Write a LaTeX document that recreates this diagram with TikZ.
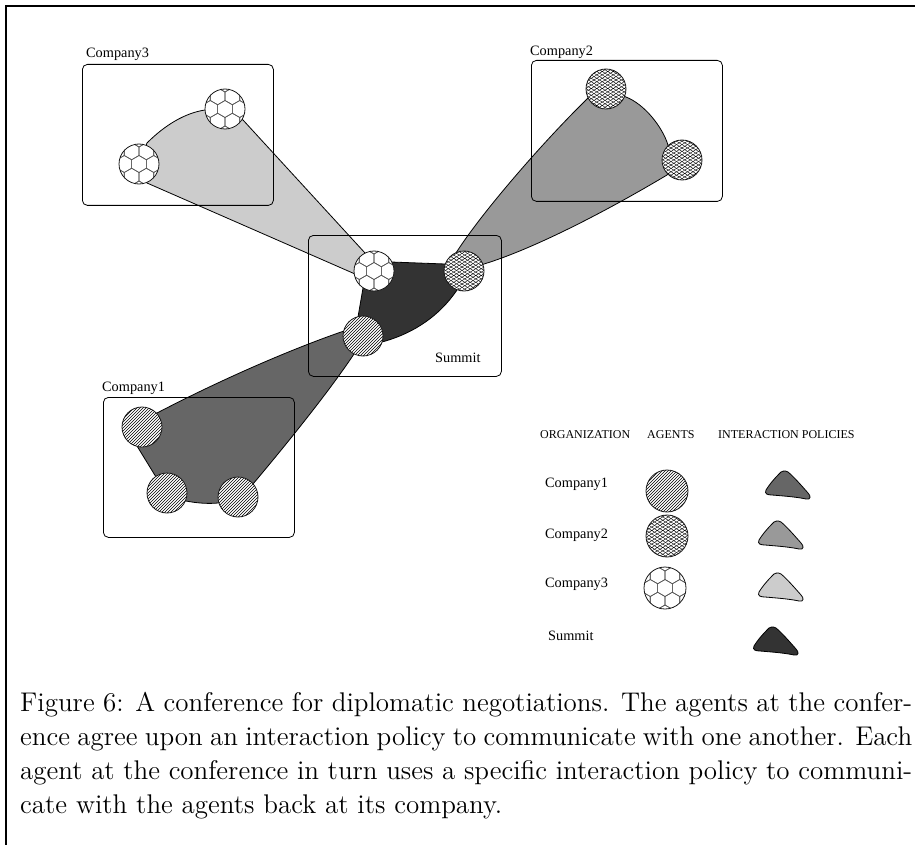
\documentclass[tikz,border=0pt]{standalone}
\usepackage{fontspec}
\usetikzlibrary{patterns,backgrounds,calc}
\newfontfamily\diagfont{Liberation Serif}
\newfontfamily\capfont{lmroman12-regular.otf}

% fine diamond mesh used for the Company2 agents
\pgfdeclarepatternformonly{meshpat}{\pgfqpoint{-1pt}{-1pt}}{\pgfqpoint{7pt}{5pt}}{\pgfqpoint{5.5pt}{3.4pt}}{%
  \pgfsetlinewidth{0.4pt}%
  \pgfpathmoveto{\pgfqpoint{0pt}{0pt}}\pgfpathlineto{\pgfqpoint{5.5pt}{3.4pt}}%
  \pgfpathmoveto{\pgfqpoint{0pt}{3.4pt}}\pgfpathlineto{\pgfqpoint{5.5pt}{0pt}}%
  \pgfusepath{stroke}}

\definecolor{polA}{HTML}{666666}
\definecolor{polB}{HTML}{999999}
\definecolor{polC}{HTML}{CCCCCC}
\definecolor{polD}{HTML}{333333}
\definecolor{hexgray}{HTML}{555555}

\tikzset{
  lbl/.style={inner sep=0pt, font=\diagfont\fontsize{14.3}{16}\selectfont},
  hdr/.style={inner sep=0pt, font=\diagfont\fontsize{12}{14}\selectfont},
  orgbox/.style={draw=black, line width=0.8pt, rounded corners=5pt, minimum width=191pt, minimum height=141pt, anchor=north west, inner sep=0pt},
  agent/.style={circle, draw=black!90, line width=0.8pt, minimum size=40pt, inner sep=0pt},
  hatchagent/.style={agent, preaction={fill=white}, pattern=north east lines},
  meshagent/.style={agent, preaction={fill=white}, pattern=meshpat},
  hexline/.style={draw=hexgray, line width=0.6pt},
  soccer/.style={agent, fill=white, path picture={
    \foreach \j in {-2,...,2}{
      \foreach \i in {-2,...,2}{
        \pgfmathsetmacro\hx{\i*14.72+Mod(\j,2)*7.36}
        \pgfmathsetmacro\hy{\j*12.75}
        \draw[hexline] ($(path picture bounding box.center)+(\hx,\hy)$)
          +(30:8.5) -- +(90:8.5) -- +(150:8.5) -- +(210:8.5) -- +(270:8.5) -- +(330:8.5) -- cycle;
      }
    }
  }},
  region/.style={draw=black, line width=0.8pt, line join=round},
  policy/.pic={
    \path[pic actions] (-4,2) .. controls (-9,7) and (-14,13) .. (-17,18)
      .. controls (-19,22) and (-15,23) .. (-11,23)
      .. controls (1,24) and (14,25) .. (23,27)
      .. controls (28,28) and (28,24) .. (25,21)
      .. controls (18,13) and (10,4) .. (5,0)
      .. controls (2,-2) and (-2,-1) .. cycle;
  },
  polshape/.style={draw=black, line width=0.8pt}
}

\begin{document}
\begin{tikzpicture}[x=1pt,y=-1pt]
\useasboundingbox (0,0) rectangle (915,845);

% outer frame
\draw[line width=2.5pt] (6,870) -- (6,6) -- (940,6);

% organisations
\node[orgbox] (box3) at (82,64) {};
\node[orgbox] (box2) at (531,60) {};
\node[orgbox, minimum width=193pt] (boxS) at (308,235) {};
\node[orgbox, minimum height=140pt] (box1) at (103,397) {};

\node[lbl, anchor=base west] (lab3) at (86,58) {Company3};
\node[lbl, anchor=base west] (lab2) at (530,56) {Company2};
\node[lbl, anchor=base west] (labS) at (435,362) {Summit};
\node[lbl, anchor=base west] (lab1) at (102,391) {Company1};

% agents
\node[soccer] (a3a) at (225,109) {};
\node[soccer] (a3b) at (139,164) {};
\node[meshagent] (a2a) at (606,89) {};
\node[meshagent] (a2b) at (682,160) {};
\node[hatchagent] (a1a) at (142,427) {};
\node[hatchagent] (a1b) at (167,493) {};
\node[hatchagent] (a1c) at (238,497) {};
\node[soccer] (sw) at (374,271) {};
\node[meshagent] (sx) at (464,271) {};
\node[hatchagent] (sh) at (363,336) {};

% interaction policies, behind the agents
\begin{scope}[on background layer]
  \draw[region, fill=polC] (a3b.center) -- (147,143)
    .. controls (165,125) and (185,113) .. (205,110) -- (a3a.center)
    -- (243,120) -- (365,253) -- (sw.center) -- (355,274) -- (147,183) -- cycle;
  \draw[region, fill=polB] (sx.center) -- (456,253)
    .. controls (480,215) and (540,145) .. (588,98) -- (a2a.center)
    -- (626,97) .. controls (644,104) and (662,126) .. (668,145) -- (a2b.center)
    -- (667,175) .. controls (600,215) and (530,250) .. (484,264) -- cycle;
  \draw[region, fill=polD] (sw.center) -- (391,262) -- (445,264) -- (sx.center)
    -- (457,290) .. controls (440,315) and (415,333) .. (382,342) -- (sh.center)
    -- (358,317) -- (363,288) -- cycle;
  \draw[region, fill=polA] (sh.center) -- (344,331)
    .. controls (300,346) and (230,375) .. (157,413) -- (a1a.center)
    -- (137,446) -- (156,477) -- (a1b.center)
    -- (186,501) .. controls (196,503) and (208,504) .. (218,503) -- (a1c.center)
    -- (253,484) .. controls (290,440) and (330,390) .. (354,354) -- cycle;
\end{scope}

% legend
\node[hdr, anchor=base west] (hOrg) at (540,438) {ORGANIZATION};
\node[hdr, anchor=base west] (hAg) at (647,438) {AGENTS};
\node[hdr, anchor=base west] (hPol) at (718,438) {INTERACTION POLICIES};

\node[lbl, anchor=base west] (lg1) at (545,487) {Company1};
\node[lbl, anchor=base west] (lg2) at (545,538) {Company2};
\node[lbl, anchor=base west] (lg3) at (545,587) {Company3};
\node[lbl, anchor=base west] (lg4) at (548,640) {Summit};

\node[hatchagent, minimum size=42pt] (la1) at (667,491) {};
\node[meshagent, minimum size=42pt] (la2) at (667,536) {};
\node[soccer, minimum size=42pt] (la3) at (665,588) {};

\pic[polshape, fill=polA] (lp1) at (783,472) {policy};
\pic[polshape, fill=polB] (lp2) at (776,522) {policy};
\pic[polshape, fill=polC] (lp3) at (776,574) {policy};
\pic[polshape, fill=polD] (lp4) at (771,628) {policy};

% caption
\node[anchor=north west, inner sep=0pt, text width=892pt, align=justify,
      font=\capfont\fontsize{27}{34}\selectfont] (caption) at (20,692)
  {Figure 6: A conference for diplomatic negotiations. The agents at the confer-\linebreak
   ence agree upon an interaction policy to communicate with one another. Each\linebreak
   agent at the conference in turn uses a specific interaction policy to communi-\linebreak
   cate with the agents back at its company.};
\end{tikzpicture}
\end{document}
